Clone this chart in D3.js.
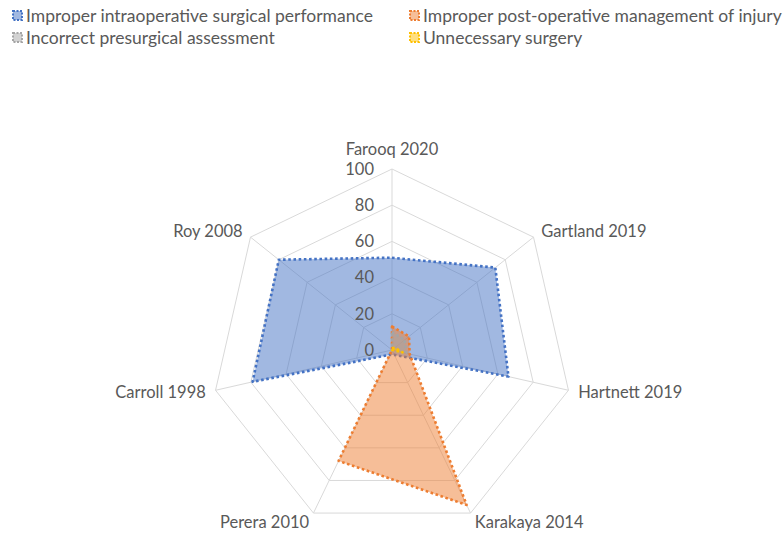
<!DOCTYPE html>
<html><head><meta charset="utf-8">
<script src="https://cdn.jsdelivr.net/npm/d3@7"></script>
<style>body{margin:0;background:#fff}svg{display:block}text{font-family:Lato,"Open Sans",sans-serif;fill:#595959}</style>
</head><body><svg id="c" width="784" height="537"></svg>
<script>
const categories = ["Farooq 2020","Gartland 2019","Hartnett 2019","Karakaya 2014","Perera 2010","Carroll 1998","Roy 2008"];
const seriesNames = ["Improper intraoperative surgical performance","Improper post-operative management of injury","Incorrect presurgical assessment","Unnecessary surgery"];
const intraop = [51, 73, 66, 3, 3, 79, 80];
const postop = [13, 12, 10, 95, 68, 0, 0];
const presurg = [10, 9, 8, 0, 0, 0, 0];
const unnecessary = [1, 2, 6, 0, 0, 0, 0];
const tickValues = [0, 20, 40, 60, 80, 100];
const colors = ["#4472C4", "#ED7D31", "#A5A5A5", "#FFC000"];

const svg = d3.select("#c");
const cx = 392, cy = 350, R = 181;
const r = d3.scaleLinear().domain([0, 100]).range([0, R]);
const step = 2*Math.PI/categories.length;
const angle = i => i*step;
const pt = (i, v) => [cx + r(v)*Math.sin(angle(i)), cy - r(v)*Math.cos(angle(i))];

// grid
const g = svg.append("g");
tickValues.filter(t => t > 0).forEach(t => {
  g.append("polygon").attr("points", categories.map((c, i) => pt(i, t).join(",")).join(" "))
    .attr("fill", "none").attr("stroke", "#d9d9d9").attr("stroke-width", 1);
});
categories.forEach((c, i) => {
  const p = pt(i, 100);
  g.append("line").attr("x1", cx).attr("y1", cy).attr("x2", p[0]).attr("y2", p[1])
    .attr("stroke", "#d9d9d9").attr("stroke-width", 1);
});

// series
const all = [intraop, postop, presurg, unnecessary];
const line = d3.lineRadial().angle((d, i) => angle(i)).radius(d => r(d)).curve(d3.curveLinearClosed);
all.forEach((vals, s) => {
  svg.append("path").attr("transform", `translate(${cx},${cy})`)
    .attr("d", line(vals))
    .attr("fill", colors[s]).attr("fill-opacity", 0.5)
    .attr("stroke", colors[s]).attr("stroke-width", 2.6)
    .attr("stroke-dasharray", "2.6,2.6").attr("stroke-linejoin", "round");
});

// tick labels
tickValues.forEach(t => {
  svg.append("text").attr("x", cx - 18).attr("y", cy - r(t)).attr("dy", "0.35em")
    .attr("text-anchor", "end").attr("font-size", 16.5).text(t);
});

// category labels
categories.forEach((c, i) => {
  const a = angle(i);
  const sx = Math.sin(a), sy = -Math.cos(a);
  const d = i === 0 ? 20 : 10;
  const x = cx + (R + d)*sx, y = cy + (R + d)*sy;
  const anchor = Math.abs(sx) < 0.01 ? "middle" : (sx > 0 ? "start" : "end");
  svg.append("text").attr("x", x).attr("y", y).attr("dy", "0.35em")
    .attr("text-anchor", anchor).attr("font-size", 16.5).text(c);
});

// legend
const legPos = [[12, 16], [409, 16], [12, 38], [409, 38]];
seriesNames.forEach((n, s) => {
  const [x, y] = legPos[s];
  const lg = svg.append("g").attr("transform", `translate(${x},${y})`);
  lg.append("rect").attr("x", 1).attr("y", -5).attr("width", 9).attr("height", 9)
    .attr("fill", colors[s]).attr("fill-opacity", 0.5)
    .attr("stroke", colors[s]).attr("stroke-width", 2).attr("stroke-dasharray", "2,1.5");
  lg.append("text").attr("x", 14).attr("y", 0).attr("dy", "0.35em").attr("font-size", 17.5).text(n);
});
</script></body></html>
